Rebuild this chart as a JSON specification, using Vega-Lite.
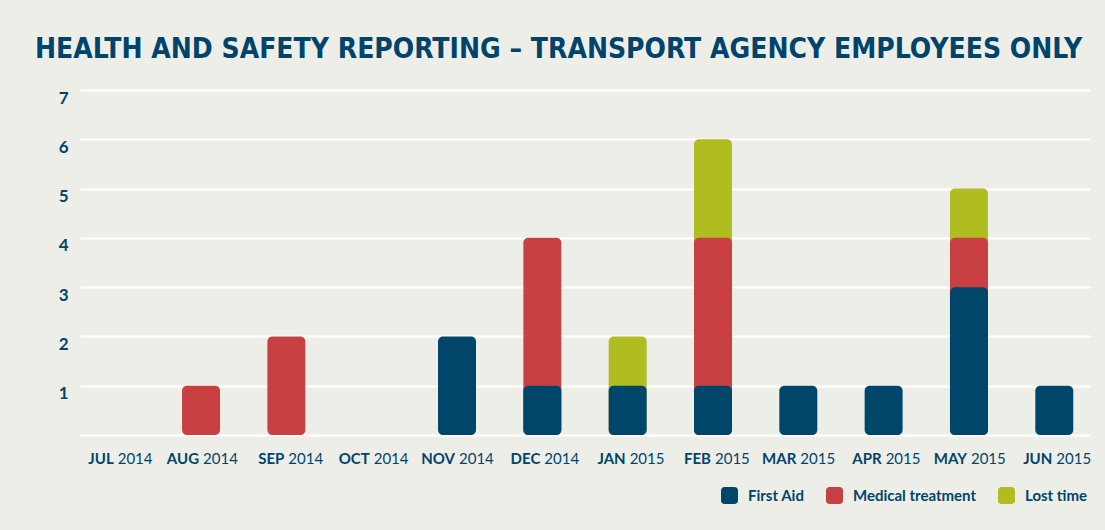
{
  "$schema": "https://vega.github.io/schema/vega-lite/v6.json",
  "width": 1010,
  "height": 345,
  "autosize": {"type": "none"},
  "padding": {"left": 80, "top": 90, "right": 15, "bottom": 95},
  "background": "#EEEEE9",
  "config": {"view": {"stroke": null}},
  "title": {
    "text": "HEALTH AND SAFETY REPORTING – TRANSPORT AGENCY EMPLOYEES ONLY",
    "anchor": "start",
    "frame": "group",
    "dx": -45,
    "offset": 25,
    "font": "DejaVu Sans Condensed, Lato",
    "fontSize": 28,
    "fontWeight": "bold",
    "color": "#00446B"
  },
  "datasets": {
    "incidents": [
      {"month": "AUG 2014", "type": "Medical treatment", "count": 1},
      {"month": "SEP 2014", "type": "Medical treatment", "count": 2},
      {"month": "NOV 2014", "type": "First Aid", "count": 2},
      {"month": "DEC 2014", "type": "First Aid", "count": 1},
      {"month": "DEC 2014", "type": "Medical treatment", "count": 3},
      {"month": "JAN 2015", "type": "First Aid", "count": 1},
      {"month": "JAN 2015", "type": "Lost time", "count": 1},
      {"month": "FEB 2015", "type": "First Aid", "count": 1},
      {"month": "FEB 2015", "type": "Medical treatment", "count": 3},
      {"month": "FEB 2015", "type": "Lost time", "count": 2},
      {"month": "MAR 2015", "type": "First Aid", "count": 1},
      {"month": "APR 2015", "type": "First Aid", "count": 1},
      {"month": "MAY 2015", "type": "First Aid", "count": 3},
      {"month": "MAY 2015", "type": "Medical treatment", "count": 1},
      {"month": "MAY 2015", "type": "Lost time", "count": 1},
      {"month": "JUN 2015", "type": "First Aid", "count": 1}
    ],
    "months": [
      {"month": "JUL 2014", "mon": "JUL", "yr": "2014"},
      {"month": "AUG 2014", "mon": "AUG", "yr": "2014"},
      {"month": "SEP 2014", "mon": "SEP", "yr": "2014"},
      {"month": "OCT 2014", "mon": "OCT", "yr": "2014"},
      {"month": "NOV 2014", "mon": "NOV", "yr": "2014"},
      {"month": "DEC 2014", "mon": "DEC", "yr": "2014"},
      {"month": "JAN 2015", "mon": "JAN", "yr": "2015"},
      {"month": "FEB 2015", "mon": "FEB", "yr": "2015"},
      {"month": "MAR 2015", "mon": "MAR", "yr": "2015"},
      {"month": "APR 2015", "mon": "APR", "yr": "2015"},
      {"month": "MAY 2015", "mon": "MAY", "yr": "2015"},
      {"month": "JUN 2015", "mon": "JUN", "yr": "2015"}
    ]
  },
  "encoding": {
    "x": {
      "field": "month",
      "type": "nominal",
      "scale": {
        "domain": ["JUL 2014", "AUG 2014", "SEP 2014", "OCT 2014", "NOV 2014", "DEC 2014", "JAN 2015", "FEB 2015", "MAR 2015", "APR 2015", "MAY 2015", "JUN 2015"],
        "paddingInner": 0.555,
        "paddingOuter": 0.196
      },
      "axis": null
    }
  },
  "layer": [
    {
      "data": {"name": "incidents"},
      "transform": [
        {"calculate": "indexof(['First Aid', 'Medical treatment', 'Lost time'], datum.type)", "as": "rank"},
        {"stack": "count", "groupby": ["month"], "sort": [{"field": "rank", "order": "ascending"}], "as": ["c0", "c1"]},
        {"filter": "datum.type == 'Lost time'"}
      ],
      "mark": {"type": "bar", "cornerRadius": 5},
      "encoding": {
        "y": {
          "field": "c1",
          "type": "quantitative",
          "stack": null,
          "scale": {"domain": [0, 7], "nice": false},
          "axis": {
            "title": null,
            "values": [0, 1, 2, 3, 4, 5, 6, 7],
            "labelExpr": "datum.value == 0 ? '' : datum.label",
            "grid": true,
            "gridColor": "#FFFFFF",
            "gridWidth": 2,
            "gridOpacity": 1,
            "domain": false,
            "ticks": false,
            "labelPadding": 12,
            "labelFont": "Lato",
            "labelFontSize": 17,
            "labelFontWeight": "bold",
            "labelColor": "#00446B",
            "labelBaseline": "middle",
            "labelOffset": 8
          }
        },
        "color": {
          "field": "type",
          "type": "nominal",
          "scale": {
            "domain": ["First Aid", "Medical treatment", "Lost time"],
            "range": ["#00456A", "#C94043", "#AFBD21"]
          },
          "legend": {
            "title": null,
            "orient": "none",
            "direction": "horizontal",
            "legendX": 641,
            "legendY": 397,
            "symbolType": "M-1,-0.55 Q-1,-1 -0.55,-1 L0.55,-1 Q1,-1 1,-0.55 L1,0.55 Q1,1 0.55,1 L-0.55,1 Q-1,1 -1,0.55 Z",
            "symbolSize": 289,
            "symbolStrokeWidth": 0,
            "symbolOpacity": 1,
            "labelFont": "Lato",
            "labelFontSize": 15,
            "labelFontWeight": "bold",
            "labelColor": "#00446B",
            "labelOffset": 10,
            "labelLimit": 300,
            "columnPadding": 21
          }
        }
      }
    },
    {
      "data": {"name": "incidents"},
      "transform": [
        {"calculate": "indexof(['First Aid', 'Medical treatment', 'Lost time'], datum.type)", "as": "rank"},
        {"stack": "count", "groupby": ["month"], "sort": [{"field": "rank", "order": "ascending"}], "as": ["c0", "c1"]},
        {"filter": "datum.type == 'Medical treatment'"}
      ],
      "mark": {"type": "bar", "cornerRadius": 5},
      "encoding": {
        "y": {"field": "c1", "type": "quantitative", "stack": null},
        "color": {"field": "type", "type": "nominal"}
      }
    },
    {
      "data": {"name": "incidents"},
      "transform": [
        {"calculate": "indexof(['First Aid', 'Medical treatment', 'Lost time'], datum.type)", "as": "rank"},
        {"stack": "count", "groupby": ["month"], "sort": [{"field": "rank", "order": "ascending"}], "as": ["c0", "c1"]},
        {"filter": "datum.type == 'First Aid'"}
      ],
      "mark": {"type": "bar", "cornerRadius": 5},
      "encoding": {
        "y": {"field": "c1", "type": "quantitative", "stack": null},
        "color": {"field": "type", "type": "nominal"}
      }
    },
    {
      "data": {"name": "months"},
      "mark": {"type": "text", "align": "right", "baseline": "middle", "dx": -2, "dy": 24, "font": "Lato", "fontSize": 15, "fontWeight": "bold", "color": "#00446B"},
      "encoding": {
        "y": {"datum": 0},
        "text": {"field": "mon"}
      }
    },
    {
      "data": {"name": "months"},
      "mark": {"type": "text", "align": "left", "baseline": "middle", "dx": 2, "dy": 24, "font": "Lato", "fontSize": 15, "fontWeight": "normal", "color": "#00446B"},
      "encoding": {
        "y": {"datum": 0},
        "text": {"field": "yr"}
      }
    }
  ]
}
